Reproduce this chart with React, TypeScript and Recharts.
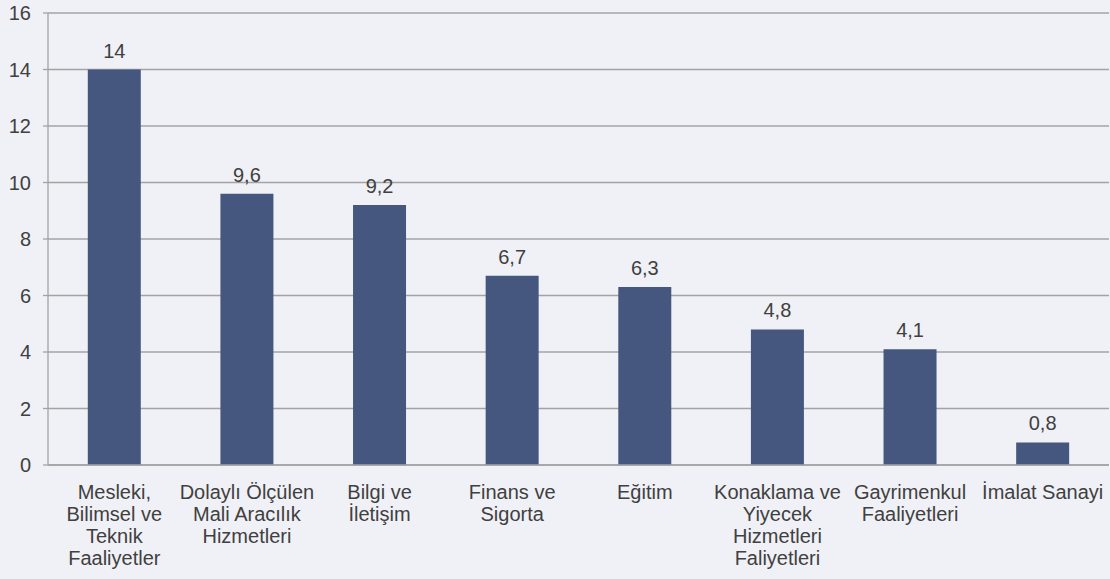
import React from 'react';
import { BarChart, Bar, XAxis, YAxis, CartesianGrid, LabelList } from 'recharts';

const categories = [
  'Mesleki,\nBilimsel ve\nTeknik\nFaaliyetler',
  'Dolaylı Ölçülen\nMali Aracılık\nHizmetleri',
  'Bilgi ve\nİletişim',
  'Finans ve\nSigorta',
  'Eğitim',
  'Konaklama ve\nYiyecek\nHizmetleri\nFaliyetleri',
  'Gayrimenkul\nFaaliyetleri',
  'İmalat Sanayi',
];
const values = [14, 9.6, 9.2, 6.7, 6.3, 4.8, 4.1, 0.8];
const yTicks = [0, 2, 4, 6, 8, 10, 12, 14, 16];
const boundaryTicks = [0, 1, 2, 3, 4, 5, 6, 7, 8];

const data = categories.map((name, i) => ({ name, value: values[i] }));

const FONT = '"Liberation Sans", Arial, sans-serif';
const TEXT = '#404040';
const GRID = '#a3a3a3';

const CategoryTick = (props: any) => {
  const { x, y, payload } = props;
  const lines = String(payload.value).split('\n');
  return (
    <text x={x} y={y + 34} textAnchor="middle" fill={TEXT} fontSize={20} fontFamily={FONT}>
      {lines.map((l, i) => (
        <tspan key={i} x={x} dy={i === 0 ? 0 : 22}>
          {l}
        </tspan>
      ))}
    </text>
  );
};

const fmt = (v: any) => String(v).replace('.', ',');

export default function App() {
  return (
    <div style={{ position: 'absolute', left: 0, top: 0, width: 1110, height: 579, background: '#f0f1f6' }}>
      <BarChart
        width={1110}
        height={579}
        data={data}
        margin={{ top: 13, right: 1, bottom: 0, left: 0 }}
        barCategoryGap="30%"
      >
        <CartesianGrid vertical={false} stroke={GRID} strokeWidth={1.3} />
        <XAxis
          dataKey="name"
          interval={0}
          tickLine={false}
          axisLine={{ stroke: GRID, strokeWidth: 1.3 }}
          tickSize={0}
          tickMargin={0}
          tick={<CategoryTick />}
          height={114}
        />
        <XAxis
          xAxisId="bounds"
          type="number"
          domain={[0, 8]}
          ticks={boundaryTicks}
          interval={0}
          axisLine={false}
          tickLine={{ stroke: GRID, strokeWidth: 1.3 }}
          tickSize={6}
          tickFormatter={() => ''}
          height={0}
        />
        <YAxis
          domain={[0, 16]}
          ticks={yTicks}
          interval={0}
          width={48}
          axisLine={{ stroke: GRID, strokeWidth: 1.3 }}
          tickLine={{ stroke: GRID, strokeWidth: 1.3 }}
          tickSize={5}
          tickMargin={12}
          tick={{ fill: TEXT, fontSize: 20, fontFamily: FONT }}
        />
        <Bar dataKey="value" fill="#45577f" isAnimationActive={false}>
          <LabelList
            dataKey="value"
            position="top"
            offset={12}
            formatter={fmt}
            style={{ fill: TEXT, fontSize: 20, fontFamily: FONT }}
          />
        </Bar>
      </BarChart>
    </div>
  );
}
